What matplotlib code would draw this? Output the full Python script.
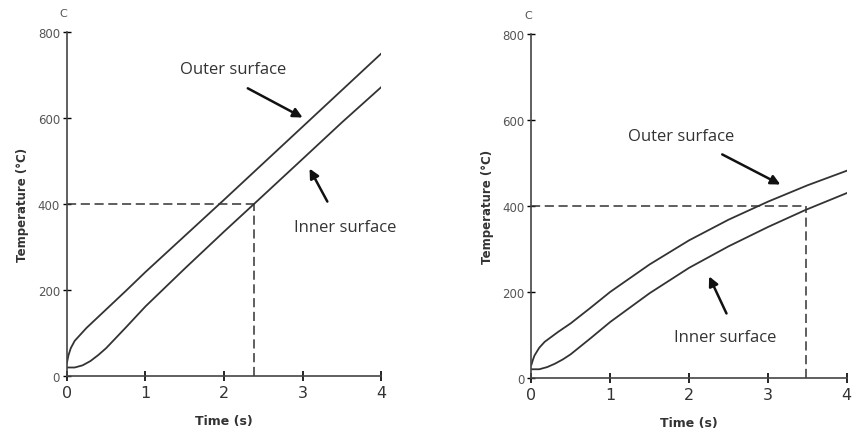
import matplotlib.pyplot as plt

# left chart: linear heating
left_outer_t = [0, 0.02, 0.05, 0.1, 0.25, 0.5, 0.75, 1, 1.5, 2, 2.5, 3, 3.5, 4]
left_outer_T = [30, 48, 65, 82, 112, 155, 198, 242, 326, 410, 495, 580, 665, 750]
left_inner_t = [0, 0.1, 0.2, 0.3, 0.4, 0.5, 0.75, 1, 1.5, 2, 2.38, 3, 3.5, 4]
left_inner_T = [20, 20, 25, 35, 49, 65, 113, 162, 250, 336, 400, 505, 590, 672]
left_mark_t = 2.38

# right chart: slower heating
right_outer_t = [0, 0.02, 0.04, 0.1, 0.17, 0.34, 0.5, 0.75, 1, 1.5, 2, 2.5, 3, 3.5, 4]
right_outer_T = [30, 42, 52, 70, 84, 107, 127, 163, 200, 264, 320, 368, 410, 448, 482]
right_inner_t = [0, 0.1, 0.2, 0.3, 0.4, 0.5, 0.75, 1, 1.5, 2, 2.5, 3, 3.48, 4]
right_inner_T = [20, 20, 25, 33, 43, 55, 92, 130, 197, 256, 306, 351, 391, 430]
right_mark_t = 3.48

level = 400
xticks = [0, 1, 2, 3, 4]
yticks = [0, 200, 400, 600, 800]

line_col = '#333333'
text_font = ['Open Sans', 'DejaVu Sans']

fig = plt.figure(figsize=(8.57, 4.39), dpi=100)
ax1 = fig.add_axes([0.078, 0.141, 0.367, 0.784])
ax2 = fig.add_axes([0.620, 0.137, 0.368, 0.783])


def draw(ax, ot, oT, it, iT, mark_t, outer_txt, outer_arr, inner_txt, inner_arr):
    ax.plot(ot, oT, color=line_col, lw=1.3)
    ax.plot(it, iT, color=line_col, lw=1.3)
    # dashed guide lines at 400 C
    ax.plot([0, mark_t], [level, level], color=line_col, lw=1.1, ls=(0, (6, 3)))
    ax.plot([mark_t, mark_t], [0, level], color=line_col, lw=1.1, ls=(0, (6, 3)))

    ax.set_xlim(0, 4)
    ax.set_ylim(0, 800)
    ax.set_xticks(xticks)
    ax.set_yticks(yticks)
    ax.tick_params(axis='x', direction='inout', length=7, width=1.2, labelsize=11.5,
                   labelcolor='#333333', pad=3)
    ax.tick_params(axis='y', direction='inout', length=6, width=1.0, labelsize=8.5,
                   labelcolor='#555555', pad=2)
    for s in ['top', 'right']:
        ax.spines[s].set_visible(False)
    for s in ['left', 'bottom']:
        ax.spines[s].set_color('#444444')
        ax.spines[s].set_linewidth(1.2)

    ax.set_xlabel('Time (s)', fontsize=9, fontweight='bold', color='#333333', labelpad=10)
    ax.set_ylabel('Temperature (°C)', fontsize=8.5, fontweight='bold', color='#333333', labelpad=6)
    ax.text(-0.01, 1.04, 'C', transform=ax.transAxes, fontsize=8, color='#555555',
            ha='center', va='bottom')

    ax.text(outer_txt[0], outer_txt[1], 'Outer surface', family=text_font, fontsize=12,
            color='#333333', ha='center', va='center')
    ax.annotate('', xy=outer_arr[1], xytext=outer_arr[0],
                arrowprops=dict(arrowstyle='-|>', color='#111111', lw=1.8, mutation_scale=14))
    ax.text(inner_txt[0], inner_txt[1], 'Inner surface', family=text_font, fontsize=12,
            color='#333333', ha='center', va='center')
    ax.annotate('', xy=inner_arr[1], xytext=inner_arr[0],
                arrowprops=dict(arrowstyle='-|>', color='#111111', lw=1.8, mutation_scale=14))


draw(ax1, left_outer_t, left_outer_T, left_inner_t, left_inner_T, left_mark_t,
     (2.11, 714), [(2.27, 672), (3.03, 598)],
     (3.54, 346), [(3.33, 400), (3.07, 488)])
draw(ax2, right_outer_t, right_outer_T, right_inner_t, right_inner_T, right_mark_t,
     (1.90, 563), [(2.39, 523), (3.19, 447)],
     (2.46, 95), [(2.49, 144), (2.24, 242)])

fig.savefig('out.png', dpi=100)
